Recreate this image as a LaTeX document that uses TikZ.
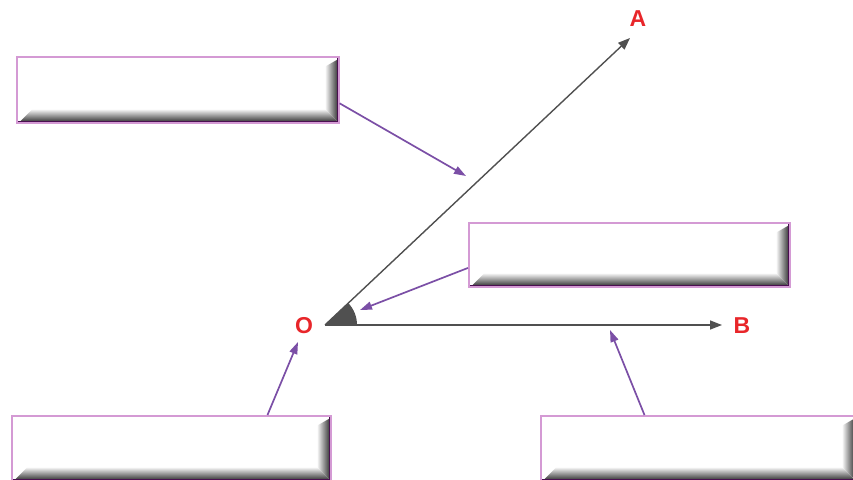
\documentclass[tikz,border=0pt]{standalone}
\usepackage{fontspec}
\setmainfont{Liberation Sans}
\usetikzlibrary{calc,arrows.meta}
\definecolor{boxedge}{HTML}{D49AD4}
\definecolor{darkedge}{HTML}{4A1050}
\definecolor{calloutc}{HTML}{7B4FA6}
\definecolor{rayc}{HTML}{505050}
\definecolor{labelred}{HTML}{E8262A}
\tikzset{
  x=1pt, y=-1pt,
  bevelbox/.style={draw=boxedge, line width=1.6pt, fill=white, inner sep=0pt,
    minimum width=#1, minimum height=65pt, anchor=north west,
    path picture={
      \coordinate (ppsw) at (path picture bounding box.south west);
      \coordinate (ppse) at (path picture bounding box.south east);
      \coordinate (ppne) at (path picture bounding box.north east);
      \shade[left color=white, right color=black!85]
        ($(ppne)+(-14,10)$) -- ($(ppne)+(0,2)$) -- (ppse) -- ($(ppse)+(-14,-14)$) -- cycle;
      \shade[top color=white, bottom color=black!85]
        ($(ppsw)+(2,0)$) -- ($(ppsw)+(16,-14)$) -- ($(ppse)+(-14,-14)$) -- (ppse) -- cycle;
      \draw[darkedge, line width=3.5pt] (ppsw) -| (ppne);
    }},
  ray/.style={rayc, line width=1.4pt, -{Triangle[length=12pt,width=9pt]}},
  callout/.style={calloutc, line width=1.7pt, -{Triangle[length=12pt,width=8pt]}},
  ptlabel/.style={text=labelred, font=\fontsize{23}{23}\selectfont\bfseries, inner sep=0pt}
}
\begin{document}
\begin{tikzpicture}
\useasboundingbox (0,0) rectangle (853,479);
\clip (0,0) rectangle (853,479);
% boxes
\node[bevelbox=322pt, minimum height=66pt] (b1) at (16,56) {};
\node[bevelbox=321pt, minimum height=64pt] (b2) at (468,222) {};
\node[bevelbox=319pt] (b3) at (11,415) {};
\node[bevelbox=315pt] (b4) at (540,415) {};
% rays
\coordinate (O) at (325,325);
\coordinate (A) at (630,38);
\coordinate (B) at (722,325);
\fill[rayc] (O) -- ++(32,0) arc[start angle=0, end angle=-43.3, radius=32] -- cycle;
\draw[ray] (O) -- (A);
\draw[ray] (O) -- (B);
\node[ptlabel] (lA) at (638,19) {A};
\node[ptlabel] (lB) at (742,326) {B};
\node[ptlabel] (lO) at (304,326) {O};
% callouts
\coordinate (t1) at (466,176);
\coordinate (t2) at (360,310);
\coordinate (t3) at (298,342);
\coordinate (t4) at (610,330);
\draw[callout] ($(b1.south east)!0.3!(b1.north east)$) -- (t1);
\draw[callout] ($(b2.south west)!0.3!(b2.north west)$) -- (t2);
\draw[callout] ($(b3.north west)!0.8!(b3.north east)$) -- (t3);
\draw[callout] ($(b4.north west)!0.33!(b4.north east)$) -- (t4);
\end{tikzpicture}
\end{document}
